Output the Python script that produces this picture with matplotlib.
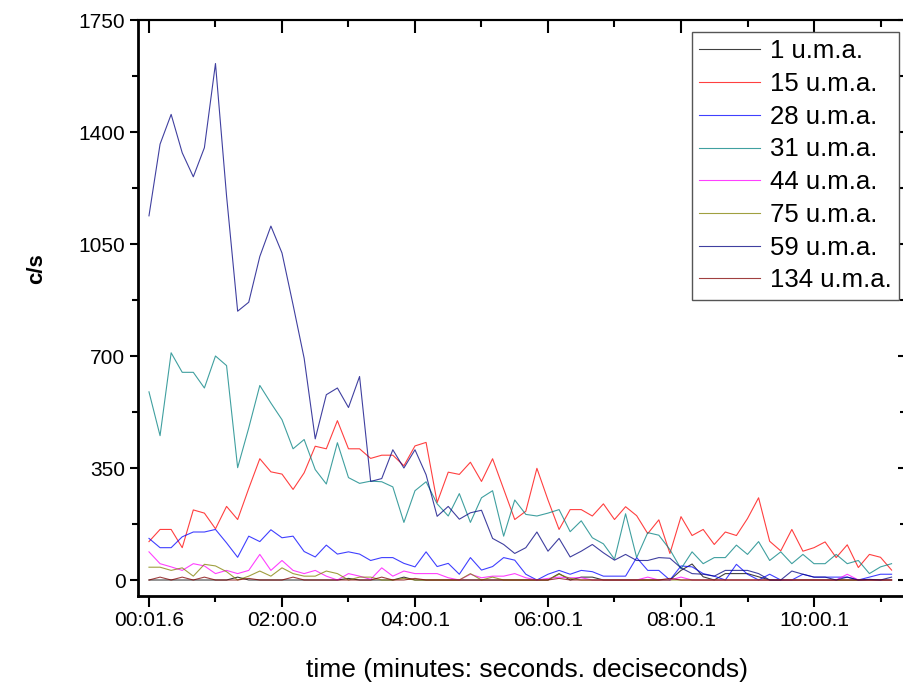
import matplotlib
matplotlib.use('Agg')
import matplotlib.pyplot as plt

plt.rcParams['font.family'] = ['Liberation Sans', 'DejaVu Sans']

# etichette asse x (un punto ogni ~10 s)
tick_pos = [0, 12, 24, 36, 48, 60]
tick_labels = ['00:01.6', '02:00.0', '04:00.1', '06:00.1', '08:00.1', '10:00.1']
minor_pos = [6, 18, 30, 42, 54, 66]

# serie (c/s)
mz1 = [0, 0, 0, 0, 0, 0, 0, 0, 9, 0, 0, 0, 0, 0, 0, 0, 0, 0, 5, 0,
       0, 0, 0, 9, 0, 0, 0, 0, 0, 0, 0, 0, 0, 0, 0, 0, 0, 20, 0, 9,
       9, 0, 0, 0, 0, 0, 0, 0, 30, 50, 10, 0, 20, 20, 20, 10, 0, 0, 0, 0,
       0, 0, 0, 0, 0, 0, 0, 0]
mz15 = [120, 158, 158, 101, 219, 209, 160, 230, 189, 286, 379, 338, 331, 283, 335, 418, 410, 498, 410, 410,
        380, 390, 390, 357, 419, 430, 242, 337, 330, 368, 308, 379, 284, 189, 215, 349, 250, 158, 220, 220,
        200, 238, 189, 229, 201, 145, 188, 83, 198, 139, 158, 111, 150, 139, 192, 257, 121, 91, 158, 90,
        101, 119, 70, 110, 39, 80, 71, 31]
mz28 = [130, 101, 101, 135, 150, 150, 158, 116, 71, 137, 120, 157, 132, 137, 89, 72, 109, 81, 88, 81,
        61, 70, 70, 52, 41, 88, 42, 52, 18, 70, 31, 42, 70, 62, 18, 0, 18, 30, 18, 30,
        26, 12, 12, 12, 70, 30, 30, 0, 44, 41, 20, 12, 0, 49, 18, 0, 18, 0, 0, 18,
        9, 9, 9, 9, 0, 9, 18, 18]
mz31 = [588, 451, 710, 649, 649, 600, 700, 670, 351, 475, 608, 553, 501, 410, 439, 345, 300, 429, 320, 302,
        309, 307, 291, 180, 279, 307, 238, 200, 270, 180, 257, 279, 137, 250, 205, 200, 209, 220, 151, 185,
        132, 113, 65, 207, 70, 148, 140, 95, 35, 88, 51, 70, 70, 109, 80, 120, 61, 88, 51, 80,
        51, 51, 80, 51, 61, 20, 41, 51]
mz44 = [88, 51, 41, 30, 51, 44, 20, 30, 20, 30, 80, 30, 61, 30, 20, 30, 12, 0, 20, 12,
        2, 38, 12, 28, 20, 20, 20, 7, 0, 18, 7, 12, 12, 20, 7, 0, 5, 9, 7, 7,
        0, 0, 0, 0, 0, 9, 0, 0, 9, 0, 0, 0, 0, 0, 0, 0, 0, 0, 0, 0,
        0, 0, 0, 18, 0, 0, 0, 0]
mz75 = [40, 40, 30, 38, 12, 49, 44, 26, 0, 12, 28, 12, 38, 20, 12, 12, 28, 20, 0, 9,
        9, 0, 0, 5, 0, 0, 0, 0, 0, 20, 0, 9, 0, 0, 0, 0, 0, 18, 5, 0,
        0, 0, 0, 0, 0, 0, 0, 0, 0, 0, 0, 0, 0, 0, 0, 0, 0, 0, 0, 0,
        0, 0, 0, 0, 0, 0, 0, 0]
mz59 = [1138, 1362, 1455, 1335, 1260, 1351, 1614, 1200, 840, 868, 1011, 1106, 1022, 860, 693, 441, 579, 600, 539, 636,
        308, 317, 407, 350, 407, 329, 199, 230, 190, 210, 218, 130, 111, 83, 101, 150, 90, 130, 72, 90,
        111, 85, 62, 80, 61, 61, 70, 68, 38, 20, 18, 12, 30, 30, 30, 20, 0, 0, 28, 18,
        9, 9, 0, 9, 0, 2, 0, 9]
mz134 = [0, 9, 0, 9, 0, 9, 0, 0, 0, 5, 0, 0, 0, 9, 0, 0, 0, 0, 0, 0,
         0, 9, 0, 0, 5, 0, 0, 0, 0, 0, 0, 0, 0, 0, 0, 0, 0, 5, 0, 0,
         0, 0, 0, 0, 0, 0, 0, 5, 0, 0, 0, 0, 0, 0, 0, 0, 0, 0, 0, 0,
         0, 0, 0, 0, 0, 0, 0, 0]

series = [mz1, mz15, mz28, mz31, mz44, mz75, mz59, mz134]
labels = ['1 u.m.a.', '15 u.m.a.', '28 u.m.a.', '31 u.m.a.',
          '44 u.m.a.', '75 u.m.a.', '59 u.m.a.', '134 u.m.a.']
colors = ['#000000', '#ff0000', '#0000ff', '#008080',
          '#ff00ff', '#808000', '#000080', '#800000']

fig = plt.figure(figsize=(9.04, 6.84), dpi=100)
ax = fig.add_axes([138 / 904, 88 / 684, 768 / 904, 576 / 684])

x = list(range(len(mz15)))
for vals, lab, col in zip(series, labels, colors):
    ax.plot(x, vals, color=col, lw=0.8, alpha=0.75, label=lab)

ax.set_xlim(-0.99, 68.3)
ax.set_ylim(-50, 1750)

ax.set_xticks(tick_pos)
ax.set_xticklabels(tick_labels)
ax.set_xticks(minor_pos, minor=True)
ax.set_yticks(range(0, 1751, 350))
ax.set_yticks(range(175, 1750, 350), minor=True)

ax.tick_params(axis='both', which='major', labelsize=15, width=1.5, direction='out')
ax.tick_params(axis='x', which='major', length=8, pad=3)
ax.tick_params(axis='y', which='major', length=6, pad=3)
ax.tick_params(axis='both', which='minor', width=1.5, length=4, direction='out')

for s in ['left', 'bottom']:
    ax.spines[s].set_linewidth(2.0)
ax.spines['top'].set_linewidth(1.5)
ax.spines['right'].set_linewidth(1.5)

# tacche speculari in alto e a destra
top = ax.secondary_xaxis('top')
top.set_xticks(tick_pos)
top.set_xticks(minor_pos, minor=True)
top.tick_params(which='major', direction='in', length=9, width=1.5, labeltop=False)
top.tick_params(which='minor', direction='in', length=5, width=1.5)
top.spines['top'].set_linewidth(1.5)

right = ax.secondary_yaxis('right')
right.set_yticks(range(0, 1751, 350))
right.set_yticks(range(175, 1750, 350), minor=True)
right.tick_params(which='major', direction='in', length=6, width=1.5, labelright=False)
right.tick_params(which='minor', direction='in', length=4, width=1.5)

ax.set_xlabel('time (minutes: seconds. deciseconds)', fontsize=19)
ax.xaxis.set_label_coords(0.5065, -0.108)
ax.set_ylabel('c/s', fontsize=16, fontweight='bold')
ax.yaxis.set_label_coords(-0.118, 0.569)

leg = ax.legend(loc='upper right', bbox_to_anchor=(0.991, 0.979), borderaxespad=0,
                fontsize=18.5, frameon=True, fancybox=False, framealpha=1,
                handlelength=2.35, handletextpad=0.4, labelspacing=0.34, borderpad=0.28)
leg.get_frame().set_edgecolor('#555555')
leg.get_frame().set_linewidth(1.0)

plt.savefig('out.png', dpi=100)
